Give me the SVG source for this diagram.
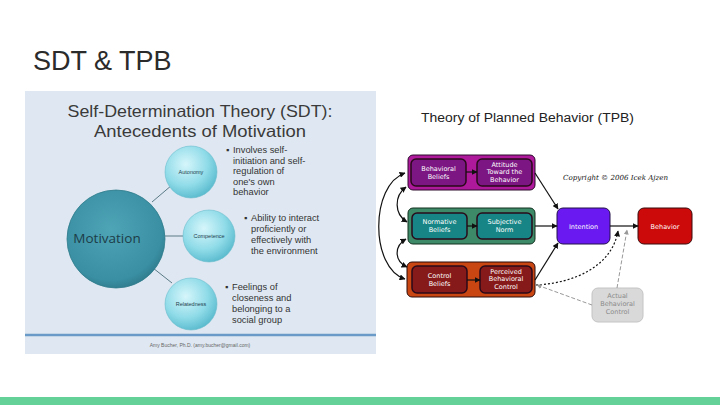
<svg xmlns="http://www.w3.org/2000/svg" width="720" height="405" viewBox="0 0 720 405">
<defs>
<style>
.t{font-family:"Liberation Sans",Arial,sans-serif}
.sdt{font-family:"Liberation Sans",Arial,sans-serif;fill:#3a3a3a}
.bul{font-family:"Liberation Sans",sans-serif;font-size:9.3px;fill:#333}
.sc{font-family:"Liberation Sans",sans-serif;font-size:5.5px;fill:#1e3f4d;text-anchor:middle}
.w{font-family:"DejaVu Sans",sans-serif;font-size:6.5px;fill:#fff;text-anchor:middle}
.ln{stroke:#111;stroke-width:1.2;fill:none}
.sl{stroke:#5a7a86;stroke-width:1;fill:none}
.ib{stroke:#2a0a1a;stroke-width:1.5}
</style>
<radialGradient id="gSmall" cx="0.4" cy="0.35" r="0.7">
<stop offset="0" stop-color="#d6f6fb"/>
<stop offset="0.6" stop-color="#8fdbe8"/>
<stop offset="1" stop-color="#55b8cb"/>
</radialGradient>
<radialGradient id="gBig" cx="0.45" cy="0.4" r="0.65">
<stop offset="0" stop-color="#4ea5b6"/>
<stop offset="0.8" stop-color="#3a8fa2"/>
<stop offset="1" stop-color="#2c7587"/>
</radialGradient>
<marker id="ah" viewBox="0 0 10 10" refX="9" refY="5" markerWidth="5" markerHeight="5" orient="auto-start-reverse">
<path d="M0,0 L10,5 L0,10 z" fill="#111"/>
</marker>
<marker id="ahg" viewBox="0 0 10 10" refX="9" refY="5" markerWidth="5" markerHeight="5" orient="auto-start-reverse">
<path d="M0,0 L10,5 L0,10 z" fill="#999"/>
</marker>
</defs>
<rect width="720" height="405" fill="#fff"/>
<text class="t" x="33" y="70" font-size="27" fill="#2b2b2b">SDT &amp; TPB</text>

<!-- SDT panel -->
<g id="sdt-panel">
<rect x="25" y="91" width="351" height="263" fill="#dfe8f2"/>
<text class="sdt" x="200" y="117" font-size="16.5" text-anchor="middle" textLength="265" lengthAdjust="spacingAndGlyphs">Self-Determination Theory (SDT):</text>
<text class="sdt" x="200" y="137" font-size="16.5" text-anchor="middle" textLength="212" lengthAdjust="spacingAndGlyphs">Antecedents of Motivation</text>
<line x1="25" y1="335" x2="376" y2="335" stroke="#6a9ac8" stroke-width="2.5"/>
<text class="t" x="200" y="347" font-size="5" fill="#666" text-anchor="middle">Amy Bucher, Ph.D. (amy.bucher@gmail.com)</text>
</g>
<g id="sdt-connectors">
<line class="sl" x1="152" y1="202" x2="172" y2="185"/>
<line class="sl" x1="165" y1="236" x2="183" y2="236"/>
<line class="sl" x1="153" y1="268" x2="172" y2="283"/>
</g>
<g id="motivation">
<circle cx="116" cy="239" r="49" fill="url(#gBig)" stroke="#2e7b8c" stroke-width="0.8"/>
<text x="107" y="243" font-family="Open Sans,Liberation Sans,sans-serif" font-size="13.5" fill="#1d3c48" text-anchor="middle">Motivation</text>
</g>
<g id="autonomy">
<circle cx="191" cy="172" r="26" fill="url(#gSmall)" stroke="#6bbccc" stroke-width="0.6"/>
<text class="sc" x="191" y="174">Autonomy</text>
<text class="bul" x="226" y="153">▪</text>
<text class="bul" x="233" y="153">Involves self-</text>
<text class="bul" x="233" y="163.5">initiation and self-</text>
<text class="bul" x="233" y="174">regulation of</text>
<text class="bul" x="233" y="184.5">one's own</text>
<text class="bul" x="233" y="195">behavior</text>
</g>
<g id="competence">
<circle cx="209" cy="236" r="26" fill="url(#gSmall)" stroke="#6bbccc" stroke-width="0.6"/>
<text class="sc" x="209" y="238">Competence</text>
<text class="bul" x="244" y="221">▪</text>
<text class="bul" x="251" y="221">Ability to interact</text>
<text class="bul" x="251" y="232">proficiently or</text>
<text class="bul" x="251" y="243">effectively with</text>
<text class="bul" x="251" y="254">the environment</text>
</g>
<g id="relatedness">
<circle cx="191" cy="304" r="26" fill="url(#gSmall)" stroke="#6bbccc" stroke-width="0.6"/>
<text class="sc" x="191" y="306">Relatedness</text>
<text class="bul" x="225" y="290">▪</text>
<text class="bul" x="232" y="290">Feelings of</text>
<text class="bul" x="232" y="301">closeness and</text>
<text class="bul" x="232" y="312">belonging to a</text>
<text class="bul" x="232" y="323">social group</text>
</g>

<!-- TPB -->
<text class="t" x="421" y="122" font-size="12.5" fill="#222" textLength="213" lengthAdjust="spacingAndGlyphs">Theory of Planned Behavior (TPB)</text>
<text x="563" y="180" font-family="DejaVu Serif,serif" font-style="italic" font-size="7" fill="#111" textLength="105" lengthAdjust="spacingAndGlyphs">Copyright © 2006 Icek Ajzen</text>

<g id="behavioral-group">
<rect x="408" y="155" width="127" height="35" rx="5" fill="#ae199c" stroke="#2a0a2a" stroke-width="1"/>
</g>
<g id="behavioral-beliefs">
<rect class="ib" x="411" y="159" width="55" height="27" rx="5" fill="#7b1682"/>
<text class="w" x="438.5" y="170.5">Behavioral</text>
<text class="w" x="438.5" y="178.5">Beliefs</text>
</g>
<g id="attitude">
<rect class="ib" x="477" y="159" width="55" height="27" rx="5" fill="#7b1682"/>
<text class="w" x="504.5" y="166.5">Attitude</text>
<text class="w" x="504.5" y="174">Toward the</text>
<text class="w" x="504.5" y="181.5">Behavior</text>
</g>
<g id="normative-group">
<rect x="408" y="208" width="127" height="36" rx="5" fill="#3d8a68" stroke="#12301f" stroke-width="1"/>
</g>
<g id="normative-beliefs">
<rect class="ib" x="412" y="213" width="55" height="26" rx="5" fill="#178585"/>
<text class="w" x="439.5" y="224">Normative</text>
<text class="w" x="439.5" y="232">Beliefs</text>
</g>
<g id="subjective-norm">
<rect class="ib" x="477" y="213" width="55" height="26" rx="5" fill="#178585"/>
<text class="w" x="504.5" y="224">Subjective</text>
<text class="w" x="504.5" y="232">Norm</text>
</g>
<g id="control-group">
<rect x="407" y="262" width="128" height="35" rx="5" fill="#c94612" stroke="#2a0a0a" stroke-width="1"/>
</g>
<g id="control-beliefs">
<rect class="ib" x="412" y="266" width="55" height="27" rx="5" fill="#861a1a"/>
<text class="w" x="439.5" y="277.5">Control</text>
<text class="w" x="439.5" y="285.5">Beliefs</text>
</g>
<g id="pbc">
<rect class="ib" x="480" y="266" width="52" height="27" rx="5" fill="#861a1a"/>
<text class="w" x="506" y="273.5">Perceived</text>
<text class="w" x="506" y="281">Behavioral</text>
<text class="w" x="506" y="288.5">Control</text>
</g>
<g id="intention">
<rect x="557" y="208" width="53" height="36" rx="6" fill="#6a1af0" stroke="#20104a" stroke-width="1"/>
<text class="w" x="583.5" y="228.5">Intention</text>
</g>
<g id="behavior">
<rect x="638" y="208" width="54" height="36" rx="6" fill="#cc0a0a" stroke="#3a0a0a" stroke-width="1"/>
<text class="w" x="665" y="228.5">Behavior</text>
</g>
<g id="actual-control">
<rect x="592" y="288" width="51" height="34" rx="6" fill="#d9d9d9" stroke="#c4c4c4" stroke-width="1"/>
<text class="w" x="617.5" y="298" style="fill:#8a8a8a">Actual</text>
<text class="w" x="617.5" y="306" style="fill:#8a8a8a">Behavioral</text>
<text class="w" x="617.5" y="314" style="fill:#8a8a8a">Control</text>
</g>

<g id="connectors">
<line class="ln" x1="466" y1="172" x2="477" y2="172" marker-end="url(#ah)"/>
<line class="ln" x1="467" y1="226" x2="477" y2="226" marker-end="url(#ah)"/>
<line class="ln" x1="467" y1="280" x2="480" y2="280" marker-end="url(#ah)"/>
<line class="ln" x1="535" y1="173" x2="558" y2="209" marker-end="url(#ah)"/>
<line class="ln" x1="535" y1="226" x2="557" y2="226" marker-end="url(#ah)"/>
<line class="ln" x1="535" y1="280" x2="558" y2="243" marker-end="url(#ah)"/>
<line class="ln" x1="610" y1="226" x2="638" y2="226" marker-end="url(#ah)"/>
<path class="ln" d="M536,285 C575,283 612,266 618,231" stroke-dasharray="2,2" stroke-width="1.4" marker-end="url(#ah)"/>
<line x1="617" y1="288" x2="627" y2="230" stroke="#999" stroke-width="1" stroke-dasharray="4,2" marker-end="url(#ahg)"/>
<line x1="592" y1="305" x2="537" y2="285" stroke="#999" stroke-width="1" stroke-dasharray="4,2" marker-end="url(#ahg)"/>
<path class="ln" d="M405,173 C370,185 370,268 405,279" marker-start="url(#ah)" marker-end="url(#ah)"/>
<path class="ln" d="M406,187 C394,196 394,214 407,222" marker-start="url(#ah)" marker-end="url(#ah)"/>
<path class="ln" d="M406,239 C394,246 394,261 407,267" marker-start="url(#ah)" marker-end="url(#ah)"/>
</g>

<rect x="0" y="397" width="720" height="8" fill="#64d198"/>
</svg>
